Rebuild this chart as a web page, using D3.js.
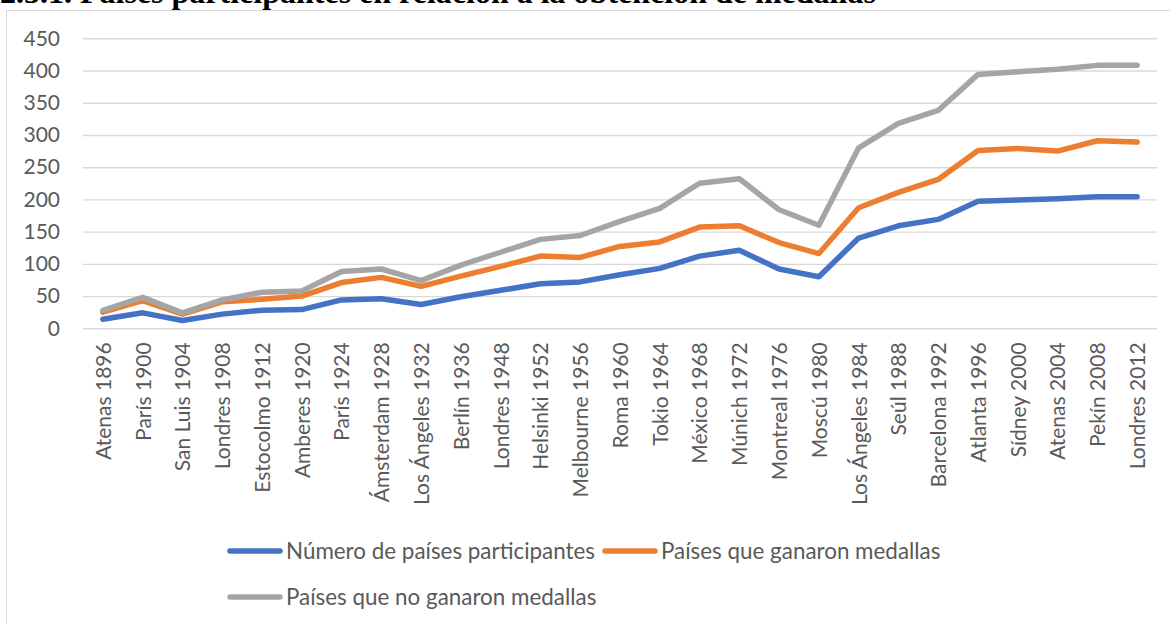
<!DOCTYPE html>
<html>
<head>
<meta charset="utf-8">
<script src="https://cdn.jsdelivr.net/npm/d3@7"></script>
<style>
  body { margin: 0; background: #fff; }
  svg { display: block; }
  .tick text { font-family: Lato, "Open Sans", sans-serif; fill: #595959; }
</style>
</head>
<body>
<div id="chart"></div>
<script>
// games (categories)
const games = [
  'Atenas 1896', 'París 1900', 'San Luis 1904', 'Londres 1908', 'Estocolmo 1912',
  'Amberes 1920', 'París 1924', 'Ámsterdam 1928', 'Los Ángeles 1932', 'Berlín 1936',
  'Londres 1948', 'Helsinki 1952', 'Melbourne 1956', 'Roma 1960', 'Tokio 1964',
  'México 1968', 'Múnich 1972', 'Montreal 1976', 'Moscú 1980', 'Los Ángeles 1984',
  'Seúl 1988', 'Barcelona 1992', 'Atlanta 1996', 'Sídney 2000', 'Atenas 2004',
  'Pekín 2008', 'Londres 2012'
];

// series values (stacked line chart in the original)
const participants = [14, 24, 12, 22, 28, 29, 44, 46, 37, 49, 59, 69, 72, 83, 93,
  112, 121, 92, 80, 140, 159, 169, 197, 199, 201, 204, 204];
const withMedals = [11, 19, 10, 19, 17, 21, 27, 33, 28, 32, 37, 43, 38, 44, 41,
  45, 38, 41, 36, 47, 52, 62, 79, 80, 74, 87, 85];
const withoutMedals = [3, 5, 2, 3, 11, 8, 17, 13, 9, 17, 22, 26, 34, 39, 52,
  68, 73, 51, 44, 93, 107, 107, 118, 119, 127, 117, 119];

const yTicks = [0, 50, 100, 150, 200, 250, 300, 350, 400, 450];

const seriesNames = ['Número de países participantes', 'Países que ganaron medallas', 'Países que no ganaron medallas'];
const colors = ['#4472C4', '#ED7D31', '#A5A5A5'];

const W = 1170, H = 624;
const plot = { left: 83, right: 1157, top: 38.3, bottom: 328.3 };

const svg = d3.select('#chart').append('svg')
  .attr('width', W)
  .attr('height', H);

// title, partly cut off at the top edge as in the source
svg.append('text')
  .attr('x', 0)
  .attr('y', 3)
  .attr('font-family', '"Liberation Serif", "Times New Roman", serif')
  .attr('font-weight', 'bold')
  .attr('font-size', 32)
  .attr('fill', '#000')
  .text('2.3.1. Países participantes en relación a la obtención de medallas');

// chart area border
svg.append('rect')
  .attr('x', 6.5)
  .attr('y', 10.5)
  .attr('width', W)
  .attr('height', H)
  .attr('fill', '#fff')
  .attr('stroke', '#d9d9d9')
  .attr('stroke-width', 1);

const x = d3.scalePoint()
  .domain(games)
  .range([plot.left, plot.right])
  .padding(0.5);

const y = d3.scaleLinear()
  .domain([0, 450])
  .range([plot.bottom, plot.top]);

// gridlines + y labels
const yAxis = svg.append('g')
  .attr('transform', `translate(${plot.left},0)`)
  .call(d3.axisLeft(y).tickValues(yTicks).tickSize(-(plot.right - plot.left)).tickPadding(23));
yAxis.select('.domain').remove();
yAxis.selectAll('.tick line').attr('stroke', '#d9d9d9').attr('stroke-width', 1.4);
yAxis.selectAll('.tick text').attr('font-size', 21);

// x labels
const xAxis = svg.append('g')
  .attr('transform', `translate(0,${plot.bottom})`)
  .call(d3.axisBottom(x).tickSize(0));
xAxis.select('.domain').remove();
xAxis.selectAll('.tick text')
  .attr('font-size', 21)
  .attr('text-anchor', 'end')
  .attr('transform', 'rotate(-90)')
  .attr('x', -14)
  .attr('y', 0)
  .attr('dy', '0.35em');

// stacked lines
const rows = games.map((g, i) => ({
  game: g, a: participants[i], b: withMedals[i], c: withoutMedals[i]
}));
const stacked = d3.stack().keys(['a', 'b', 'c'])(rows);

const line = d3.line()
  .x((d) => x(d.data.game))
  .y((d) => y(d[1]));

svg.selectAll('.series')
  .data(stacked)
  .enter().append('path')
  .attr('class', 'series')
  .attr('d', line)
  .attr('fill', 'none')
  .attr('stroke', (d, i) => colors[i])
  .attr('stroke-width', 5.5)
  .attr('stroke-linejoin', 'round')
  .attr('stroke-linecap', 'round');

// legend
const legendItems = [
  { x: 228, y: 551 },
  { x: 603, y: 551 },
  { x: 228, y: 597 }
];
const legend = svg.selectAll('.legend')
  .data(seriesNames)
  .enter().append('g')
  .attr('class', 'legend')
  .attr('transform', (d, i) => `translate(${legendItems[i].x},${legendItems[i].y})`);

legend.append('line')
  .attr('x1', 2).attr('x2', 52)
  .attr('stroke', (d, i) => colors[i])
  .attr('stroke-width', 5.5)
  .attr('stroke-linecap', 'round');

legend.append('text')
  .attr('x', 58)
  .attr('dy', '0.35em')
  .attr('font-family', 'Lato, "Open Sans", sans-serif')
  .attr('font-size', 22.4)
  .attr('fill', '#595959')
  .text((d) => d);
</script>
</body>
</html>
